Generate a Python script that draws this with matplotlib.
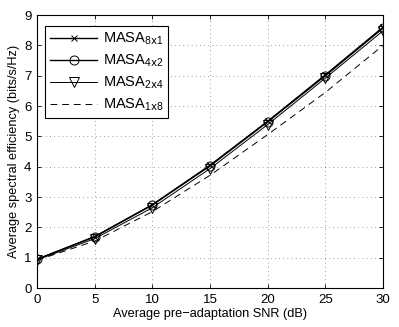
import matplotlib
matplotlib.use("Agg")
import matplotlib.pyplot as plt

plt.rcParams['font.family'] = ['Liberation Sans', 'DejaVu Sans']
plt.rcParams['mathtext.default'] = 'regular'

snr = [0, 5, 10, 15, 20, 25, 30]
masa_8x1 = [0.95, 1.70, 2.75, 4.05, 5.50, 7.03, 8.60]
masa_4x2 = [0.95, 1.69, 2.74, 4.03, 5.48, 7.00, 8.57]
masa_2x4 = [0.93, 1.63, 2.65, 3.94, 5.39, 6.92, 8.48]
masa_1x8 = [0.92, 1.55, 2.52, 3.72, 5.06, 6.45, 8.00]

labels = [r'MASA$_{8\mathrm{x}1}$', r'MASA$_{4\mathrm{x}2}$',
          r'MASA$_{2\mathrm{x}4}$', r'MASA$_{1\mathrm{x}8}$']

fig = plt.figure(figsize=(3.99, 3.27), dpi=100)
ax = fig.add_axes([0.093, 0.119, 0.867, 0.835])

ax.plot(snr, masa_8x1, '-x', color='k', lw=1.0, ms=5, mfc='none', mew=0.7, label=labels[0])
ax.plot(snr, masa_4x2, '-o', color='k', lw=1.0, ms=6.5, mfc='none', mew=0.7, label=labels[1])
ax.plot(snr, masa_2x4, '-v', color='k', lw=0.7, ms=6.5, mfc='none', mew=0.7, label=labels[2])
ax.plot(snr, masa_1x8, '--', color='k', lw=0.7, dashes=(7, 5), label=labels[3])

ax.set_xlim(0, 30)
ax.set_ylim(0, 9)
ax.set_xticks(snr)
ax.set_yticks(range(10))
ax.grid(True, linestyle=(0, (1, 4)), color='k', lw=0.6, alpha=0.5)
ax.tick_params(direction='in', top=True, right=True, labelsize=9.5, length=3, width=0.6, pad=4)
for s in ax.spines.values():
    s.set_linewidth(0.8)

ax.set_xlabel('Average pre\u2212adaptation SNR (dB)', fontsize=9.2, labelpad=2)
ax.set_ylabel('Average spectral efficiency (bits/s/Hz)', fontsize=9.2, labelpad=3)

leg = ax.legend(loc='upper left', fontsize=10.5, handlelength=3.2, handletextpad=0.4,
                fancybox=False, edgecolor='k', framealpha=1, borderpad=0.35,
                labelspacing=0.38, borderaxespad=0, bbox_to_anchor=(0.023, 0.96))
leg.get_frame().set_linewidth(0.8)

fig.savefig('out.png', dpi=100)
